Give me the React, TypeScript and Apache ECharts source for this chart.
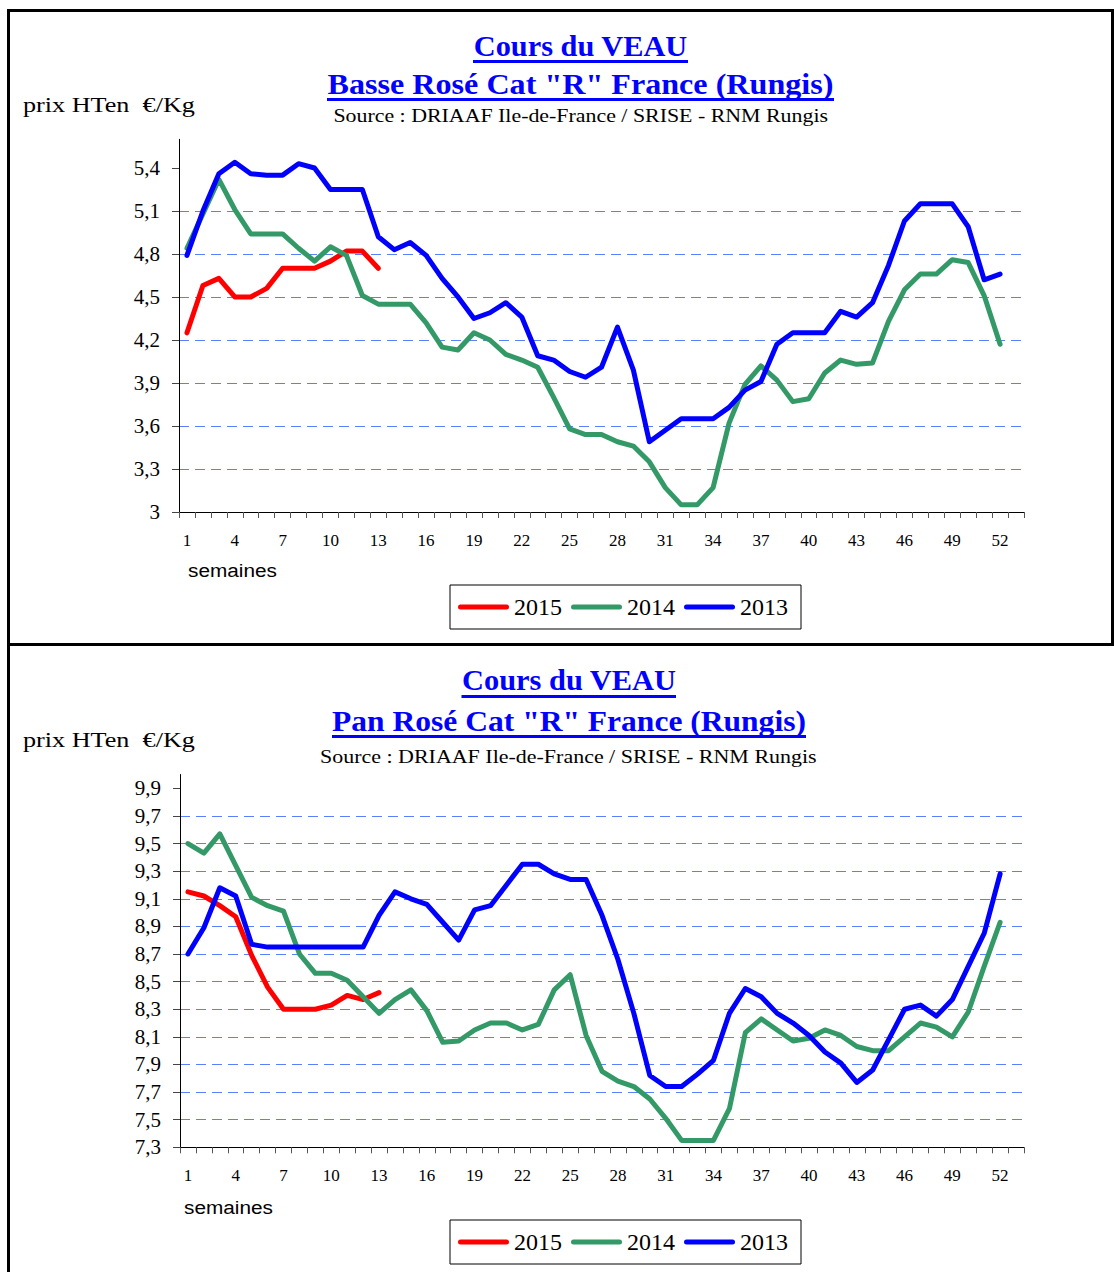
import React, { useEffect, useRef } from 'react';
import * as echarts from 'echarts';

const weeks = ['1','2','3','4','5','6','7','8','9','10','11','12','13','14','15','16','17','18','19','20','21','22','23','24','25','26','27','28','29','30','31','32','33','34','35','36','37','38','39','40','41','42','43','44','45','46','47','48','49','50','51','52','53'];
const legendYears = ['2015', '2014', '2013'];

const basse2015 = [4.25, 4.58, 4.63, 4.50, 4.50, 4.56, 4.70, 4.70, 4.70, 4.75, 4.82, 4.82, 4.70];
const basse2014 = [4.84, 5.08, 5.32, 5.11, 4.94, 4.94, 4.94, 4.84, 4.75, 4.85, 4.79, 4.51, 4.45, 4.45, 4.45, 4.32, 4.15, 4.13, 4.25, 4.20, 4.10, 4.06, 4.01, 3.80, 3.58, 3.54, 3.54, 3.49, 3.46, 3.35, 3.17, 3.05, 3.05, 3.17, 3.62, 3.89, 4.02, 3.92, 3.77, 3.79, 3.97, 4.06, 4.03, 4.04, 4.33, 4.55, 4.66, 4.66, 4.76, 4.74, 4.51, 4.17];
const basse2013 = [4.79, 5.10, 5.36, 5.44, 5.36, 5.35, 5.35, 5.43, 5.40, 5.25, 5.25, 5.25, 4.92, 4.83, 4.88, 4.79, 4.63, 4.50, 4.35, 4.39, 4.46, 4.36, 4.09, 4.06, 3.98, 3.94, 4.01, 4.29, 3.99, 3.49, 3.57, 3.65, 3.65, 3.65, 3.73, 3.85, 3.91, 4.17, 4.25, 4.25, 4.25, 4.40, 4.36, 4.46, 4.72, 5.03, 5.15, 5.15, 5.15, 4.99, 4.62, 4.66];

const pan2015 = [9.15, 9.12, 9.05, 8.97, 8.69, 8.46, 8.30, 8.30, 8.30, 8.33, 8.40, 8.37, 8.42];
const pan2014 = [9.50, 9.43, 9.57, 9.34, 9.11, 9.05, 9.01, 8.70, 8.56, 8.56, 8.51, 8.39, 8.27, 8.37, 8.44, 8.29, 8.06, 8.07, 8.15, 8.20, 8.20, 8.15, 8.19, 8.44, 8.55, 8.11, 7.85, 7.78, 7.74, 7.65, 7.51, 7.35, 7.35, 7.35, 7.58, 8.13, 8.23, 8.15, 8.07, 8.09, 8.15, 8.11, 8.03, 8.00, 8.00, 8.10, 8.20, 8.17, 8.10, 8.28, 8.61, 8.93];
const pan2013 = [8.70, 8.89, 9.18, 9.12, 8.77, 8.75, 8.75, 8.75, 8.75, 8.75, 8.75, 8.75, 8.98, 9.15, 9.10, 9.06, 8.93, 8.80, 9.02, 9.05, 9.20, 9.35, 9.35, 9.28, 9.24, 9.24, 8.98, 8.66, 8.27, 7.82, 7.74, 7.74, 7.83, 7.93, 8.27, 8.45, 8.39, 8.27, 8.20, 8.11, 7.99, 7.91, 7.77, 7.86, 8.08, 8.30, 8.33, 8.25, 8.37, 8.61, 8.85, 9.28];

const yTicksBasse = [3, 3.3, 3.6, 3.9, 4.2, 4.5, 4.8, 5.1, 5.4];
const yTicksPan = [7.3, 7.5, 7.7, 7.9, 8.1, 8.3, 8.5, 8.7, 8.9, 9.1, 9.3, 9.5, 9.7, 9.9];

const SERIF = '"Liberation Serif", "Times New Roman", serif';
const SANS = '"Liberation Sans", Arial, sans-serif';
const COLORS: Record<string, string> = { '2015': '#ff0000', '2014': '#339966', '2013': '#0000ff' };
const capsule = 'path://M2.5,0 L48.5,0 A2.5,2.5 0 0 1 48.5,5 L2.5,5 A2.5,2.5 0 0 1 2.5,0 Z';

function measure(text: string, font: string): number {
  const ctx = document.createElement('canvas').getContext('2d');
  if (!ctx) return 1;
  ctx.font = font;
  return ctx.measureText(text).width || 1;
}

function fitText(text: string, cx: number, baseline: number, fontSize: number, weight: string, targetW: number, color: string, family = SERIF, align = 'center') {
  const w = measure(text, `${weight} ${fontSize}px ${family}`);
  return {
    type: 'text',
    x: cx,
    y: baseline - 0.34 * fontSize,
    scaleX: targetW / w,
    silent: true,
    style: {
      text,
      fontSize,
      fontWeight: weight,
      fontFamily: family,
      fill: color,
      textAlign: align,
      textVerticalAlign: 'middle',
    },
  };
}

function fmt(v: number): string {
  return String(Math.round(v * 10) / 10).replace('.', ',');
}

function makeY(gridIndex: number, min: number, max: number, interval: number, ticks: number[]) {
  return {
    type: 'value',
    gridIndex,
    min,
    max,
    interval,
    axisLine: { show: true, lineStyle: { color: '#000', width: 1 } },
    axisTick: { show: true, length: 7, inside: false, customValues: ticks, lineStyle: { color: '#444' } },
    axisLabel: {
      customValues: ticks,
      color: '#000',
      fontSize: 21,
      fontFamily: SERIF,
      margin: 19,
      formatter: (v: number) => (ticks.some((t) => Math.abs(t - v) < 1e-6) ? fmt(v) : ''),
    },
    splitLine: {
      show: true,
      showMinLine: false,
      showMaxLine: false,
      lineStyle: { type: [10, 6], color: '#5b80ff', width: 1 },
    },
  };
}

function makeX(gridIndex: number) {
  return {
    type: 'category',
    gridIndex,
    data: weeks,
    boundaryGap: true,
    axisLine: { show: true, lineStyle: { color: '#000', width: 1 } },
    axisTick: { show: true, interval: 0, length: 6, alignWithLabel: false, lineStyle: { color: '#555' } },
    axisLabel: { interval: 2, color: '#000', fontSize: 17, fontFamily: SERIF, margin: 20 },
    splitLine: { show: false },
  };
}

function makeSeries(name: string, data: number[], idx: number) {
  return {
    type: 'line',
    name,
    xAxisIndex: idx,
    yAxisIndex: idx,
    data,
    symbol: 'none',
    showSymbol: false,
    itemStyle: { color: COLORS[name] },
    lineStyle: { width: 5, color: COLORS[name], cap: 'round', join: 'round' },
  };
}

function makeLegend(top: number) {
  return {
    data: legendYears,
    left: 450,
    top,
    orient: 'horizontal',
    icon: capsule,
    itemWidth: 51,
    itemHeight: 5,
    itemGap: 9,
    padding: [10, 13, 10, 8],
    borderColor: '#000',
    borderWidth: 1,
    selectedMode: false,
    textStyle: { fontSize: 24, fontFamily: SERIF, color: '#000' },
  };
}

export default function App() {
  const ref = useRef<HTMLDivElement>(null);

  useEffect(() => {
    if (!ref.current) return;
    const chart = echarts.init(ref.current, undefined, { renderer: 'svg' });
    const blue = '#0000ff';

    const graphics: any[] = [
      // frame
      { type: 'rect', silent: true, shape: { x: 7, y: 9, width: 1107, height: 3 }, style: { fill: '#000' } },
      { type: 'rect', silent: true, shape: { x: 7, y: 9, width: 3, height: 1263 }, style: { fill: '#000' } },
      { type: 'rect', silent: true, shape: { x: 1111, y: 9, width: 3, height: 637 }, style: { fill: '#000' } },
      { type: 'rect', silent: true, shape: { x: 7, y: 643, width: 1107, height: 3 }, style: { fill: '#000' } },
      // top titles
      fitText('Cours du VEAU', 580.5, 56.5, 30, 'bold', 214, blue),
      { type: 'rect', silent: true, shape: { x: 473, y: 60, width: 215, height: 3 }, style: { fill: blue } },
      fitText('Basse Rosé Cat "R" France (Rungis)', 580.5, 94, 30, 'bold', 506, blue),
      { type: 'rect', silent: true, shape: { x: 327, y: 98, width: 507, height: 3 }, style: { fill: blue } },
      fitText('Source : DRIAAF Ile-de-France / SRISE - RNM Rungis', 580.7, 122.3, 19, 'normal', 495, '#000'),
      fitText('prix HTen  €/Kg', 23, 111.7, 22, 'normal', 172, '#000', SERIF, 'left'),
      fitText('semaines', 188, 577, 19, 'normal', 89, '#000', SANS, 'left'),
      // bottom titles
      fitText('Cours du VEAU', 569, 690.5, 30, 'bold', 214.5, blue),
      { type: 'rect', silent: true, shape: { x: 461.5, y: 695, width: 214.5, height: 3 }, style: { fill: blue } },
      fitText('Pan Rosé Cat "R" France (Rungis)', 569, 731, 30, 'bold', 474, blue),
      { type: 'rect', silent: true, shape: { x: 332, y: 735, width: 474, height: 3 }, style: { fill: blue } },
      fitText('Source : DRIAAF Ile-de-France / SRISE - RNM Rungis', 568.3, 763, 19, 'normal', 497, '#000'),
      fitText('prix HTen  €/Kg', 23, 747, 22, 'normal', 172, '#000', SERIF, 'left'),
      fitText('semaines', 184, 1214, 19, 'normal', 89, '#000', SANS, 'left'),
    ];

    chart.setOption({
      animation: false,
      backgroundColor: '#ffffff',
      grid: [
        { left: 179, right: 90, top: 139.3, bottom: 760 },
        { left: 180, right: 90, top: 774.5, bottom: 124.7 },
      ],
      xAxis: [makeX(0), makeX(1)],
      yAxis: [makeY(0, 3, 5.6, 0.3, yTicksBasse), makeY(1, 7.3, 10.0, 0.2, yTicksPan)],
      legend: [makeLegend(585), makeLegend(1220)],
      series: [
        makeSeries('2015', basse2015, 0),
        makeSeries('2014', basse2014, 0),
        makeSeries('2013', basse2013, 0),
        makeSeries('2015', pan2015, 1),
        makeSeries('2014', pan2014, 1),
        makeSeries('2013', pan2013, 1),
      ],
      graphic: graphics,
    });

    return () => chart.dispose();
  }, []);

  return <div ref={ref} style={{ position: 'absolute', left: 0, top: 0, width: 1114, height: 1272, background: '#fff' }} />;
}
